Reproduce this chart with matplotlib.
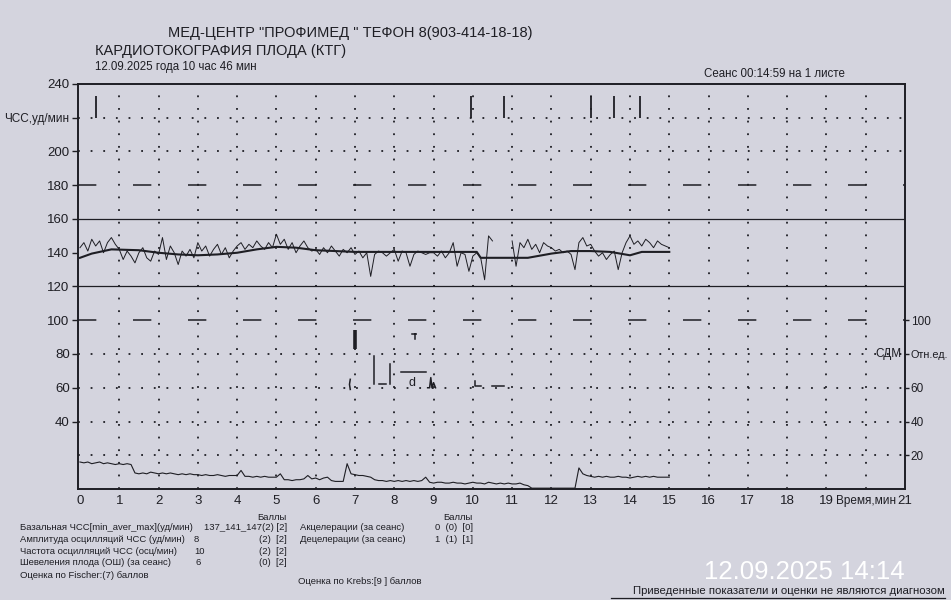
import numpy as np
import matplotlib
matplotlib.use("Agg")
import matplotlib.pyplot as plt
from matplotlib.lines import Line2D

plt.rcParams['font.family'] = ['Liberation Sans', 'DejaVu Sans']

# ---------------- data ----------------
# fetal heart rate, one sample every 0.1 min (0 .. 15 min)
fhr = [143, 146, 141, 148, 144, 147, 140, 146, 149, 145,
       142, 136, 141, 138, 134, 140, 143, 137, 135, 141,
       139, 149, 136, 144, 140, 133, 141, 138, 142, 137,
       146, 141, 144, 138, 142, 145, 139, 143, 137, 141,
       144, 146, 142, 145, 143, 147, 144, 142, 146, 143,
       151, 145, 148, 142, 146, 140, 144, 147, 143, 141,
       142, 139, 143, 140, 144, 141, 138, 142, 140, 143,
       139, 141, 137, 140, 126, 139, 141, 140, 138, 140,
       142, 135, 141, 140, 132, 139, 141, 140, 139, 140,
       140, 138, 141, 137, 140, 146, 132, 140, 139, 129,
       138, 140, 137, 124, 150, 147, np.nan, np.nan, np.nan, np.nan,
       147, 132, 146, 143, 148, 142, 145, 140, 146, 144,
       143, 141, 142, 140, 141, 139, 130, 146, 149, 144,
       145, 141, 138, 140, 136, 139, 141, 130, 140, 146,
       150, 145, 147, 144, 148, 146, 143, 147, 145, 144,
       143]
fhr_step = 0.1

# basal heart rate line
baseline_t = [0, 0.3, 0.8, 1.5, 2.0, 2.5, 3.0, 3.5, 4.0, 4.5, 5.0, 5.5, 6.0, 6.5,
              7.0, 8.0, 9.0, 10.1, 10.2, 11.4, 12.0, 12.5, 13.0, 13.5, 14.0, 14.3, 15.0]
baseline = [137, 139.5, 142, 141.5, 140, 139, 138.5, 139, 140, 142, 143.5, 143, 141.5, 141,
            140.5, 140.5, 140.5, 140.5, 137, 137, 139.5, 141, 141, 140.5, 138.5, 140.5, 140.5]

# uterine activity (СДМ, отн.ед.), one sample every 0.1 min
toco = [16, 15.5, 16, 15, 15.5, 16, 15, 15.5, 15, 14.5,
        15, 14.5, 15, 14.5, 9.5, 9, 9.5, 9, 10, 9.5,
        9, 9.5, 9, 9.5, 9, 8.5, 9, 8.5, 9, 8.5,
        8.5, 8, 8.5, 8, 8, 8.5, 8, 7.5, 8, 8,
        8, 11, 7.5, 7.5, 7, 7.5, 7, 7.5, 7, 7,
        7, 9, 5.5, 5.5, 5, 5.5, 5.5, 6, 8, 6,
        6.5, 5.5, 6.5, 7, 5, 4.5, 4.5, 4.5, 15, 9,
        8.5, 8, 8, 7.5, 7, 5.5, 5, 5, 4.5, 5,
        4.5, 5, 4.5, 5, 4.5, 5, 4.5, 5, 7, 4,
        3.5, 4, 4, 3.5, 3.5, 4, 3.5, 3.5, 3, 3.5,
        4, 3.5, 3.5, 3, 4, 3.5, 3, 3.5, 3, 3.5,
        3, 3, 3.5, 2.5, 2, 0.5, 0.5, 0.5, 0.5, 0.5,
        0.5, 0.5, 0.5, 0.5, 0.5, 0.5, 0.5, 12.5, 9, 8,
        7.5, 7, 7.5, 7, 7.5, 7, 7, 7.5, 7, 7,
        6.5, 7, 7.5, 7, 7.5, 7, 7.5, 7, 7, 7,
        7]
toco_step = 0.1

# fetal movement marks (min)
movement_t = [0.4, 9.95, 10.8, 13.0, 13.6, 14.25]
movement_lo, movement_hi = 220, 233

# deceleration / event marks
bar_t, bar_lo, bar_hi = 7.0, 83, 94
event_lines = [([7.49, 7.49], [79, 62]),
               ([7.62, 7.8], [62, 62]),
               ([7.9, 7.9], [74, 62]),
               ([8.18, 8.81], [69.5, 69.5]),
               ([8.85, 8.9, 8.93, 8.96, 9.0, 9.05], [60, 60, 66, 60, 63, 60]),
               ([6.88, 6.86, 6.88], [65, 62, 59]),
               ([8.45, 8.55, 8.53, 8.53], [92, 92, 92, 89]),
               ([10.05, 10.05, 10.2], [64, 61, 61]),
               ([10.5, 10.8], [61, 61])]
decel_label = ('d', 8.45, 63)

# axes ticks
left_ticks = [240, 220, 200, 180, 160, 140, 120, 100, 80, 60, 40]
left_labels = ['240', 'ЧСС,уд/мин', '200', '180', '160', '140', '120', '100', '80', '60', '40']
right_ticks = [20, 40, 60, 80, 100]
right_labels = ['20', '40', '60', 'Отн.ед.', '100']
x_ticks = list(range(0, 22))
x_labels = [str(v) for v in x_ticks]
x_labels[20] = 'Время,мин'

dotted_h = [220, 200, 80, 60, 40, 20]
dashed_h = [180, 100]
solid_h = [160, 120]
grid_v = list(range(1, 21))

# ---------------- drawing ----------------
paper = '#d4d4de'
ink = '#1e1e24'
W, H = 951, 600
fig = plt.figure(figsize=(W / 100, H / 100), dpi=100, facecolor=paper)

left, right, top, bottom = 78, 905, 84, 489
ax = fig.add_axes([left / W, 1 - bottom / H, (right - left) / W, (bottom - top) / H])
ax.set_facecolor(paper)
ax.set_xlim(-0.05, 21.0)
ax.set_ylim(0, 240)

for y in dotted_h:
    ax.axhline(y, color=ink, lw=1.3, ls=(0, (1, 6)), zorder=1)
for y in dashed_h:
    ax.axhline(y, color=ink, lw=1.1, ls=(0, (12, 24)), zorder=1)
for y in solid_h:
    ax.axhline(y, color=ink, lw=0.9, zorder=1)
for x in grid_v:
    ax.axvline(x, color=ink, lw=1.3, ls=(0, (1, 6)), zorder=1)

t_fhr = np.arange(len(fhr)) * fhr_step
ax.plot(t_fhr, fhr, color=ink, lw=0.7, zorder=3)
ax.plot(baseline_t, baseline, color=ink, lw=1.5, zorder=4)

t_toco = np.arange(len(toco)) * toco_step
ax.plot(t_toco, toco, color=ink, lw=0.8, zorder=3)

ax.vlines(movement_t, movement_lo, movement_hi, color=ink, lw=1.3, zorder=3)
ax.vlines([bar_t], bar_lo, bar_hi, color=ink, lw=2.6, zorder=3)
for xs, ys in event_lines:
    ax.plot(xs, ys, color=ink, lw=1.1, zorder=3)
ax.text(decel_label[1], decel_label[2], decel_label[0], ha='center', va='center',
        fontsize=9, color=ink)

for s in ax.spines.values():
    s.set_color(ink)
    s.set_linewidth(1.4)

ax.set_yticks(left_ticks)
ax.set_yticklabels(left_labels)
ax.tick_params(axis='y', length=4, width=1, colors=ink, labelsize=9.5, pad=2)
ax.get_yticklabels()[1].set_fontsize(8.5)
ax.set_xticks(x_ticks)
ax.set_xticklabels(x_labels)
ax.tick_params(axis='x', length=0, colors=ink, labelsize=9.5, pad=4)
ax.get_xticklabels()[20].set_fontsize(8.5)

ax2 = ax.twinx()
ax2.set_ylim(0, 240)
ax2.set_yticks(right_ticks)
ax2.set_yticklabels(right_labels)
ax2.tick_params(axis='y', length=3, width=1, colors=ink, labelsize=8.5, pad=1)
ax2.get_yticklabels()[3].set_fontsize(7.8)
for s in ax2.spines.values():
    s.set_visible(False)
ax.text(20.9, 80, 'СДМ', ha='right', va='center', fontsize=8.5, color=ink)

# ---------------- texts ----------------
def ftext(x, y, s, **kw):
    kw.setdefault('color', ink)
    return fig.text(x / W, 1 - y / H, s, **kw)

ftext(350, 33, 'МЕД-ЦЕНТР "ПРОФИМЕД " ТЕФОН 8(903-414-18-18)', ha='center', va='center', fontsize=10.5)
ftext(95, 51, 'КАРДИОТОКОГРАФИЯ ПЛОДА (КТГ)', ha='left', va='center', fontsize=10.5)
ftext(95, 67, '12.09.2025 года 10 час 46 мин', ha='left', va='center', fontsize=8.3)
ftext(704, 74, 'Сеанс 00:14:59 на 1 листе', ha='left', va='center', fontsize=8.3)

fs = 6.8
ftext(287, 518, 'Баллы', ha='right', va='center', fontsize=fs)
rows = [('Базальная ЧСС[min_aver_max](уд/мин)', '', '137_141_147(2) [2]'),
        ('Амплитуда осцилляций ЧСС (уд/мин)', '8', '(2)  [2]'),
        ('Частота осцилляций ЧСС (осц/мин)', '10', '(2)  [2]'),
        ('Шевеления плода (ОШ) (за сеанс)', '6', '(0)  [2]')]
row_y = [528, 539.5, 551, 562.5]
val_x = [200, 194, 194, 196]
for (lab, val, pts), y, vx in zip(rows, row_y, val_x):
    ftext(20, y, lab, ha='left', va='center', fontsize=fs)
    if val:
        ftext(vx, y, val, ha='left', va='center', fontsize=fs)
    ftext(287, y, pts, ha='right', va='center', fontsize=fs)
ftext(20, 576, 'Оценка по Fischer:(7) баллов', ha='left', va='center', fontsize=fs)

ftext(473, 518, 'Баллы', ha='right', va='center', fontsize=fs)
ftext(300, 528, 'Акцелерации (за сеанс)', ha='left', va='center', fontsize=fs)
ftext(473, 528, '0  (0)  [0]', ha='right', va='center', fontsize=fs)
ftext(300, 539.5, 'Децелерации (за сеанс)', ha='left', va='center', fontsize=fs)
ftext(473, 539.5, '1  (1)  [1]', ha='right', va='center', fontsize=fs)
ftext(298, 581, 'Оценка по Krebs:[9 ] баллов', ha='left', va='center', fontsize=fs)

ftext(804, 572, '12.09.2025 14:14', ha='center', va='center', fontsize=18.5, color='white')
ftext(945, 591.5, 'Приведенные показатели и оценки не являются диагнозом', ha='right',
      va='center', fontsize=8.2)
fig.add_artist(Line2D([611 / W, 945 / W], [1 - 598 / H, 1 - 598 / H], color=ink, lw=0.9))

fig.savefig('out.png', dpi=100, facecolor=paper)
